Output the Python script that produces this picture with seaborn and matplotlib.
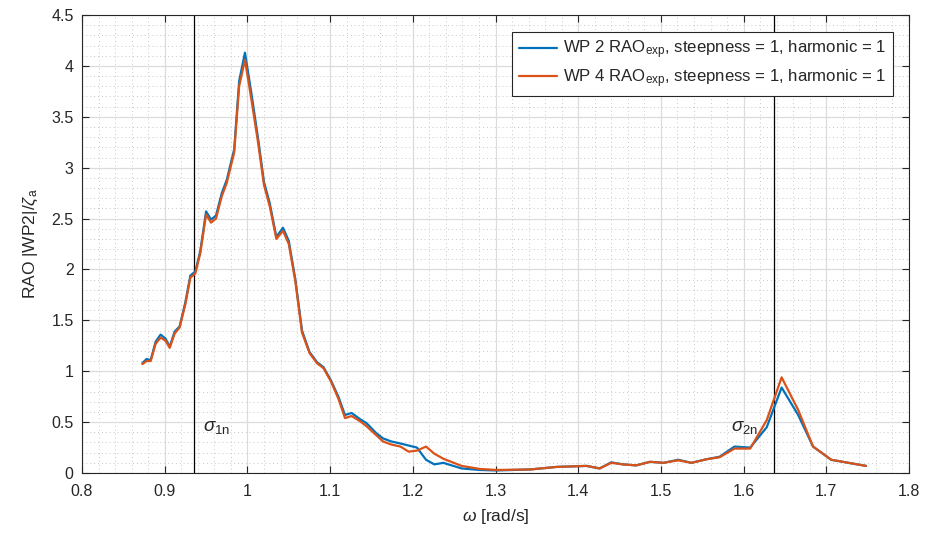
import numpy as np
import pandas as pd
import matplotlib
matplotlib.use('Agg')
import matplotlib.pyplot as plt
import seaborn as sns
from matplotlib.ticker import MultipleLocator

# frequency [rad/s] and RAO values
omega = [0.873, 0.878, 0.883, 0.889, 0.895, 0.901, 0.906, 0.912, 0.918, 0.925,
         0.931, 0.937, 0.943, 0.950, 0.956, 0.962, 0.969, 0.975, 0.984, 0.990,
         0.997, 1.005, 1.013, 1.020, 1.027, 1.035, 1.043, 1.050, 1.058, 1.066,
         1.075, 1.084, 1.092, 1.101, 1.110, 1.118, 1.126, 1.136, 1.144, 1.156,
         1.164, 1.174, 1.185, 1.195, 1.205, 1.216, 1.226, 1.237, 1.259, 1.281,
         1.301, 1.342, 1.374, 1.410, 1.426, 1.440, 1.454, 1.470, 1.487, 1.503,
         1.521, 1.537, 1.555, 1.571, 1.589, 1.608, 1.628, 1.646, 1.666, 1.684,
         1.706, 1.727, 1.748]
wp2 = [1.08, 1.12, 1.11, 1.29, 1.36, 1.32, 1.24, 1.39, 1.44, 1.68,
       1.94, 1.98, 2.18, 2.57, 2.49, 2.53, 2.75, 2.88, 3.18, 3.85,
       4.13, 3.72, 3.28, 2.86, 2.65, 2.32, 2.41, 2.28, 1.90, 1.40,
       1.19, 1.09, 1.04, 0.91, 0.75, 0.57, 0.59, 0.53, 0.49, 0.39,
       0.34, 0.31, 0.29, 0.27, 0.25, 0.13, 0.085, 0.10, 0.045, 0.03,
       0.025, 0.035, 0.06, 0.07, 0.045, 0.105, 0.085, 0.075, 0.11, 0.10,
       0.13, 0.10, 0.135, 0.16, 0.26, 0.25, 0.45, 0.84, 0.57, 0.26,
       0.13, 0.10, 0.07]
wp4 = [1.07, 1.10, 1.10, 1.27, 1.33, 1.30, 1.23, 1.37, 1.43, 1.66,
       1.92, 1.96, 2.16, 2.54, 2.46, 2.50, 2.72, 2.85, 3.15, 3.80,
       4.06, 3.66, 3.24, 2.83, 2.62, 2.30, 2.38, 2.25, 1.88, 1.38,
       1.18, 1.08, 1.03, 0.90, 0.73, 0.54, 0.56, 0.51, 0.46, 0.37,
       0.31, 0.28, 0.26, 0.21, 0.22, 0.26, 0.19, 0.14, 0.07, 0.04,
       0.03, 0.035, 0.06, 0.07, 0.045, 0.10, 0.085, 0.075, 0.11, 0.10,
       0.125, 0.10, 0.135, 0.155, 0.24, 0.24, 0.52, 0.94, 0.62, 0.26,
       0.13, 0.10, 0.07]

sigma_1n = 0.935
sigma_2n = 1.637

labels = [r'WP 2 RAO$_{\mathregular{exp}}$, steepness = 1, harmonic = 1',
          r'WP 4 RAO$_{\mathregular{exp}}$, steepness = 1, harmonic = 1']

df = pd.DataFrame({'omega': omega * 2,
                   'rao': wp2 + wp4,
                   'series': [labels[0]] * len(omega) + [labels[1]] * len(omega)})

sns.set_theme(style='ticks')
plt.rcParams['font.family'] = ['Liberation Sans', 'DejaVu Sans']
plt.rcParams['mathtext.fontset'] = 'custom'
plt.rcParams['mathtext.rm'] = 'Liberation Sans'
plt.rcParams['mathtext.it'] = 'Liberation Sans:italic'

fig = plt.figure(figsize=(9.28, 5.36), dpi=100)
ax = fig.add_axes([0.0884, 0.1175, 0.8911, 0.8545])

ax.axvline(sigma_1n, color='black', lw=0.9, zorder=1)
ax.axvline(sigma_2n, color='black', lw=0.9, zorder=1)

sns.lineplot(data=df, x='omega', y='rao', hue='series', sort=False,
             palette=['#0072BD', '#D95319'], linewidth=1.6, ax=ax, zorder=3)

ax.text(0.946, 0.45, r'$\sigma_{\mathregular{1n}}$', fontsize=13.5, va='center', ha='left')
ax.text(1.585, 0.45, r'$\sigma_{\mathregular{2n}}$', fontsize=13.5, va='center', ha='left')

ax.set_xlim(0.8, 1.8)
ax.set_ylim(0, 4.5)
ax.xaxis.set_major_locator(MultipleLocator(0.1))
ax.xaxis.set_minor_locator(MultipleLocator(0.02))
ax.yaxis.set_major_locator(MultipleLocator(0.5))
ax.yaxis.set_minor_locator(MultipleLocator(0.1))
ax.set_xticklabels([f'{v:g}' for v in np.round(ax.get_xticks(), 1)])
ax.set_yticklabels([f'{v:g}' for v in np.round(ax.get_yticks(), 1)])

ax.grid(which='major', color='#dcdcdc', lw=0.9, ls='-', zorder=0)
ax.grid(which='minor', color='#c8c8c8', lw=0.7, ls=(0, (1, 3)), zorder=0)
ax.set_axisbelow(True)

ax.tick_params(which='major', direction='in', top=True, right=True, length=5,
               width=0.8, colors='#262626', labelsize=11.5)
ax.tick_params(axis='x', which='major', pad=8)
ax.tick_params(axis='y', which='major', pad=6)
ax.tick_params(which='minor', length=0, top=True, right=True)
for s in ax.spines.values():
    s.set_color('#262626')
    s.set_linewidth(0.8)

ax.set_xlabel(r'$\omega$ [rad/s]', fontsize=12.5, color='#262626', labelpad=6)
ax.set_ylabel(r'RAO |WP2|/$\zeta_{\mathregular{a}}$', fontsize=12.5, color='#262626', labelpad=8)

leg = ax.legend(loc='upper right', bbox_to_anchor=(0.981, 0.963), borderaxespad=0,
                fontsize=12.1, fancybox=False, framealpha=1, edgecolor='#262626',
                handlelength=2.3, handletextpad=0.35, borderpad=0.4, labelspacing=0.35)
leg.get_frame().set_linewidth(0.8)
leg.set_title(None)

fig.savefig('out.png', dpi=100)
